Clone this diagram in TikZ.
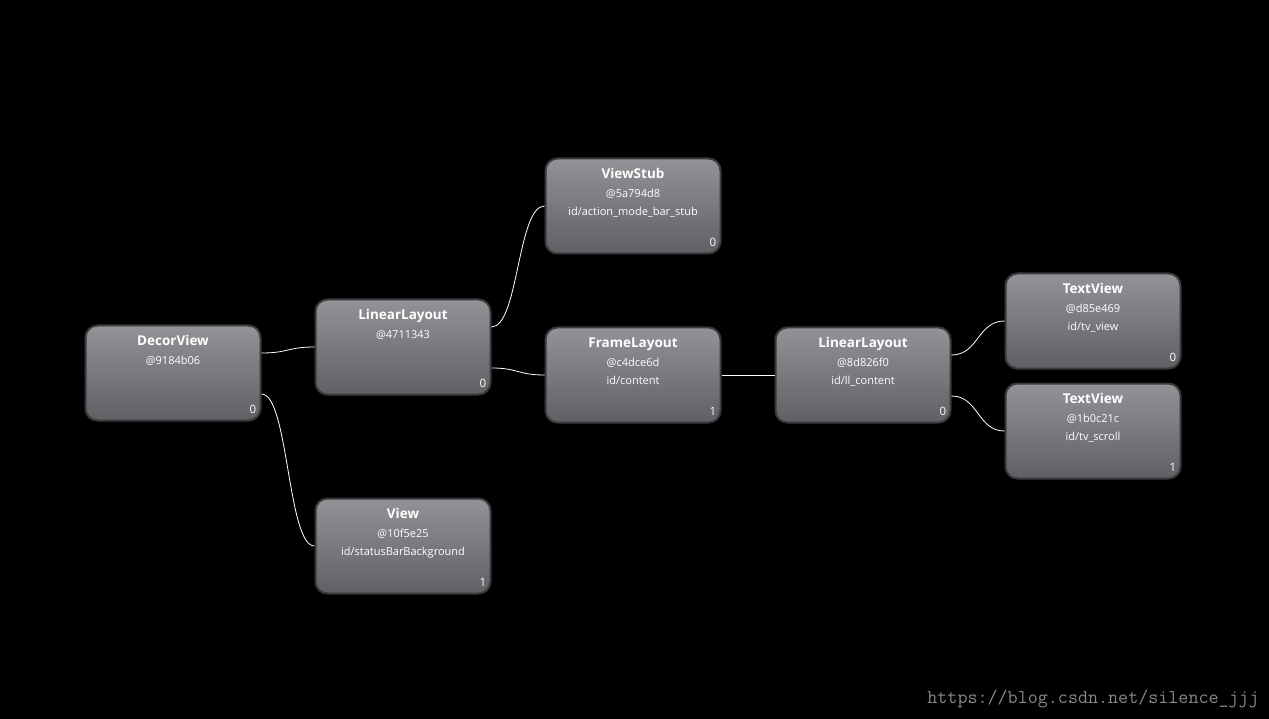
\documentclass[tikz,border=0pt]{standalone}
\usepackage{fontspec}
\setmainfont{Open Sans}
\definecolor{boxtop}{RGB}{146, 147, 151}
\definecolor{boxbot}{RGB}{94, 96, 100}
\definecolor{boxline}{RGB}{58, 58, 60}
\definecolor{markgray}{RGB}{136, 136, 136}
\usepackage{tikz}
\usetikzlibrary{positioning, calc}
\newcommand{\vtitle}[1]{{\fontsize{13.5}{18}\selectfont\bfseries #1}}

\begin{document}
\begin{tikzpicture}[
  x=1pt, y=-1pt,
  vbox/.style={draw=boxline, line width=2pt, rounded corners=12pt, minimum width=175pt, minimum height=95pt, top color=boxtop, bottom color=boxbot},
  vtext/.style={anchor=north, yshift=-11pt, inner sep=0pt, align=center, text=white, font=\fontsize{11}{18}\selectfont},
  vidx/.style={anchor=base east, xshift=-5pt, yshift=8pt, inner sep=0pt, text=white, font=\fontsize{11.5}{13}\selectfont},
  link/.style={white, line width=0.8pt}
]
  % Background
  \fill[black] (0,0) rectangle (1269,719);

  % Root
  \node[vbox] (decor) at (173,373) {};
  \node[vtext] (decor-txt) at (decor.north) {\vtitle{DecorView}\\[1pt]@9184b06};
  \node[vidx] (decor-idx) at (decor.south east) {0};

  % Level 1
  \node[vbox] (llayout) at (403,347) {};
  \node[vtext] (llayout-txt) at (llayout.north) {\vtitle{LinearLayout}\\[1pt]@4711343};
  \node[vidx] (llayout-idx) at (llayout.south east) {0};

  \node[vbox] (view) at (403,546) {};
  \node[vtext] (view-txt) at (view.north) {\vtitle{View}\\[1pt]@10f5e25\\id/statusBarBackground};
  \node[vidx] (view-idx) at (view.south east) {1};

  % Level 2
  \node[vbox] (stub) at (633,206) {};
  \node[vtext] (stub-txt) at (stub.north) {\vtitle{ViewStub}\\[1pt]@5a794d8\\id/action\_mode\_bar\_stub};
  \node[vidx] (stub-idx) at (stub.south east) {0};

  \node[vbox] (frame) at (633,375) {};
  \node[vtext] (frame-txt) at (frame.north) {\vtitle{FrameLayout}\\[1pt]@c4dce6d\\id/content};
  \node[vidx] (frame-idx) at (frame.south east) {1};

  % Level 3
  \node[vbox] (llcontent) at (863,375) {};
  \node[vtext] (llcontent-txt) at (llcontent.north) {\vtitle{LinearLayout}\\[1pt]@8d826f0\\id/ll\_content};
  \node[vidx] (llcontent-idx) at (llcontent.south east) {0};

  % Level 4
  \node[vbox] (tvview) at (1093,321) {};
  \node[vtext] (tvview-txt) at (tvview.north) {\vtitle{TextView}\\[1pt]@d85e469\\id/tv\_view};
  \node[vidx] (tvview-idx) at (tvview.south east) {0};

  \node[vbox] (tvscroll) at (1093,431) {};
  \node[vtext] (tvscroll-txt) at (tvscroll.north) {\vtitle{TextView}\\[1pt]@1b0c21c\\id/tv\_scroll};
  \node[vidx] (tvscroll-idx) at (tvscroll.south east) {1};

  % Links
  \draw[link] ([yshift=20pt]decor.east) .. controls +(27,0) and +(-27,0) .. (llayout.west);
  \draw[link] ([yshift=-21pt]decor.east) .. controls +(27,0) and +(-27,0) .. (view.west);
  \draw[link] ([yshift=20pt]llayout.east) .. controls +(27,0) and +(-27,0) .. (stub.west);
  \draw[link] ([yshift=-21pt]llayout.east) .. controls +(27,0) and +(-27,0) .. (frame.west);
  \draw[link] (frame.east) -- (llcontent.west);
  \draw[link] ([yshift=20pt]llcontent.east) .. controls +(27,0) and +(-27,0) .. (tvview.west);
  \draw[link] ([yshift=-21pt]llcontent.east) .. controls +(27,0) and +(-27,0) .. (tvscroll.west);

  % Watermark
  \node[anchor=east, inner sep=0pt, text=markgray, font=\fontsize{19.5}{21}\ttfamily] (mark) at (1259,699) {https://blog.csdn.net/silence\_jjj};
\end{tikzpicture}
\end{document}
